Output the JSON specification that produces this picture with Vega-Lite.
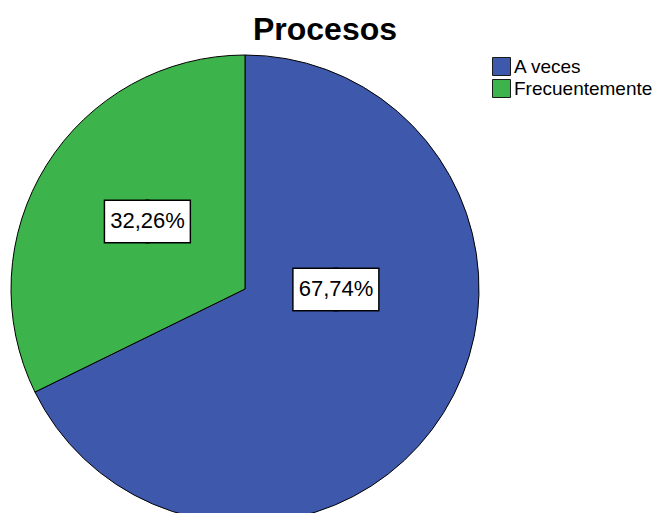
{
  "$schema": "https://vega.github.io/schema/vega-lite/v6.json",
  "width": 490,
  "height": 578,
  "autosize": {"type": "none"},
  "padding": {"left": 0, "top": 0, "right": 162, "bottom": 0},
  "background": "white",
  "title": {
    "text": "Procesos",
    "anchor": "middle",
    "frame": "group",
    "dx": 80,
    "dy": 51,
    "font": "Liberation Sans",
    "fontSize": 32,
    "fontWeight": "bold",
    "color": "#000000"
  },
  "config": {
    "view": {"stroke": null},
    "locale": {
      "number": {"decimal": ",", "thousands": ".", "grouping": [3], "currency": ["", " €"]}
    }
  },
  "data": {
    "values": [
      {"respuesta": "A veces", "porcentaje": 0.6774},
      {"respuesta": "Frecuentemente", "porcentaje": 0.3226}
    ]
  },
  "encoding": {
    "theta": {"field": "porcentaje", "type": "quantitative", "stack": true},
    "order": {"field": "respuesta", "type": "nominal", "sort": "ascending"}
  },
  "layer": [
    {
      "mark": {"type": "arc", "radius": 234, "stroke": "#000000", "strokeWidth": 1},
      "encoding": {
        "color": {
          "field": "respuesta",
          "type": "nominal",
          "scale": {"domain": ["A veces", "Frecuentemente"], "range": ["#3e58ac", "#3cb44b"]},
          "legend": {
            "title": null,
            "orient": "none",
            "legendX": 492,
            "legendY": 57,
            "padding": 0,
            "symbolType": "square",
            "symbolSize": 324,
            "symbolStrokeColor": "#1a1a1a",
            "symbolStrokeWidth": 1,
            "symbolOpacity": 1,
            "labelFont": "Liberation Sans",
            "labelFontSize": 19,
            "labelColor": "#000000",
            "labelOffset": 3,
            "rowPadding": -1
          }
        }
      }
    },
    {
      "mark": {"type": "text", "radius": 91, "thetaOffset": -0.557, "font": "DejaVu Sans Mono", "fontSize": 69, "fill": "white", "stroke": "#000000", "strokeWidth": 3, "dy": -17},
      "encoding": {
        "detail": {"field": "respuesta"},
        "text": {"condition": {"test": "datum.respuesta === 'A veces'", "value": "▄▄"}, "value": ""}
      }
    },
    {
      "mark": {"type": "text", "radius": 91, "thetaOffset": -0.557, "font": "DejaVu Sans Mono", "fontSize": 69, "fill": "white", "dy": -17},
      "encoding": {
        "detail": {"field": "respuesta"},
        "text": {"condition": {"test": "datum.respuesta === 'A veces'", "value": "▄▄"}, "value": ""}
      }
    },
    {
      "mark": {"type": "text", "radius": 91, "thetaOffset": -0.557, "font": "Liberation Sans", "fontSize": 22, "fill": "#000000"},
      "encoding": {
        "detail": {"field": "respuesta"},
        "text": {"condition": {"test": "datum.respuesta === 'A veces'", "field": "porcentaje", "type": "quantitative", "format": ".2%"}, "value": ""}
      }
    },
    {
      "mark": {"type": "text", "radius": 119, "thetaOffset": 0.054, "font": "DejaVu Sans Mono", "fontSize": 69, "fill": "white", "stroke": "#000000", "strokeWidth": 3, "dy": -17},
      "encoding": {
        "detail": {"field": "respuesta"},
        "text": {"condition": {"test": "datum.respuesta === 'Frecuentemente'", "value": "▄▄"}, "value": ""}
      }
    },
    {
      "mark": {"type": "text", "radius": 119, "thetaOffset": 0.054, "font": "DejaVu Sans Mono", "fontSize": 69, "fill": "white", "dy": -17},
      "encoding": {
        "detail": {"field": "respuesta"},
        "text": {"condition": {"test": "datum.respuesta === 'Frecuentemente'", "value": "▄▄"}, "value": ""}
      }
    },
    {
      "mark": {"type": "text", "radius": 119, "thetaOffset": 0.054, "font": "Liberation Sans", "fontSize": 22, "fill": "#000000"},
      "encoding": {
        "detail": {"field": "respuesta"},
        "text": {"condition": {"test": "datum.respuesta === 'Frecuentemente'", "field": "porcentaje", "type": "quantitative", "format": ".2%"}, "value": ""}
      }
    }
  ]
}
